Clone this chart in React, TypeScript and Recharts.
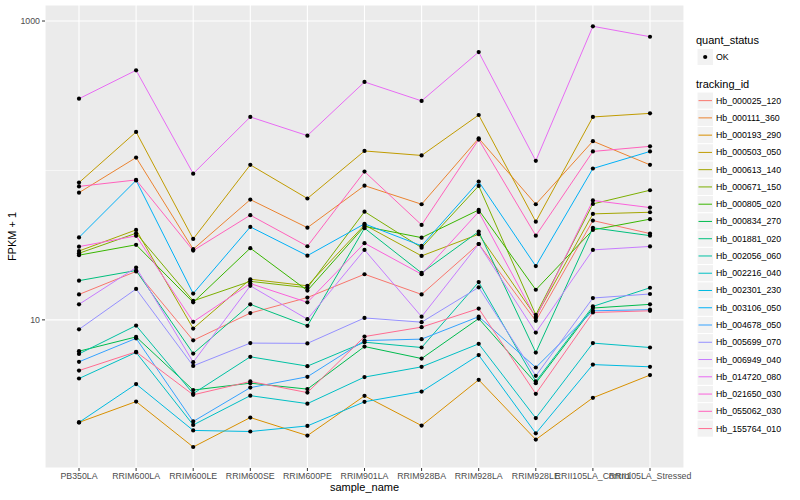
import React from "react";
import { LineChart, Line, XAxis, YAxis, CartesianGrid, ReferenceLine } from "recharts";

const categories = [
  "PB350LA", "RRIM600LA", "RRIM600LE", "RRIM600SE", "RRIM600PE", "RRIM901LA",
  "RRIM928BA", "RRIM928LA", "RRIM928LE", "RRII105LA_Control", "RRII105LA_Stressed",
];

const trackingIds = [
  "Hb_000025_120", "Hb_000111_360", "Hb_000193_290", "Hb_000503_050", "Hb_000613_140",
  "Hb_000671_150", "Hb_000805_020", "Hb_000834_270", "Hb_001881_020", "Hb_002056_060",
  "Hb_002216_040", "Hb_002301_230", "Hb_003106_050", "Hb_004678_050", "Hb_005699_070",
  "Hb_006949_040", "Hb_014720_080", "Hb_021650_030", "Hb_055062_030", "Hb_155764_010",
];

const colors = [
  "#F8766D", "#EA8331", "#D89000", "#C09B00", "#A3A500", "#7CAE00", "#39B600", "#00BB4E",
  "#00BF7D", "#00C1A3", "#00BFC4", "#00BAE0", "#00B0F6", "#35A2FF", "#9590FF", "#C77CFF",
  "#E76BF3", "#FA62DB", "#FF62BC", "#FF6C91",
];

// FPKM + 1 per sample, in category order
const hb_000025_120 = [14.8, 21.1, 7.29, 11.1, 14.1, 20.2, 14.8, 32.2, 9.85, 46.2, 37.8];
const hb_000111_360 = [71.0, 122, 29.7, 63.8, 41.4, 79.1, 59.4, 164, 59.4, 157, 109];
const hb_000193_290 = [2.06, 2.84, 1.41, 2.22, 1.68, 3.10, 1.96, 3.97, 1.58, 3.01, 4.27];
const hb_000503_050 = [82.9, 181, 34.8, 109, 64.9, 135, 126, 235, 45.4, 228, 241];
const hb_000613_140 = [28.9, 40.0, 8.75, 18.7, 16.9, 43.2, 26.8, 37.4, 10.5, 51.2, 52.5];
const hb_000671_150 = [27.9, 38.0, 13.4, 18.1, 16.4, 53.0, 30.4, 78.8, 10.8, 59.7, 73.7];
const hb_000805_020 = [27.1, 31.8, 13.1, 30.2, 15.7, 42.2, 35.5, 54.4, 15.9, 40.0, 47.2];
const hb_000834_270 = [6.17, 7.69, 3.39, 3.77, 3.44, 6.63, 5.51, 10.2, 3.77, 12.0, 12.7];
const hb_001881_020 = [18.3, 21.4, 5.95, 12.7, 9.12, 41.1, 20.6, 39.0, 6.04, 41.3, 36.6];
const hb_002056_060 = [5.92, 9.16, 3.21, 5.66, 4.90, 7.09, 6.53, 17.9, 3.87, 12.3, 16.4];
const hb_002216_040 = [4.05, 6.06, 1.98, 3.11, 2.75, 4.14, 4.85, 6.91, 2.20, 6.99, 6.53];
const hb_002301_230 = [2.06, 3.72, 1.82, 1.79, 1.95, 2.83, 3.31, 5.81, 1.74, 5.02, 4.85];
const hb_003106_050 = [35.6, 85.8, 15.0, 41.9, 26.9, 43.9, 31.3, 84.2, 22.9, 103, 134];
const hb_004678_050 = [5.24, 7.52, 2.09, 3.52, 4.16, 7.27, 7.43, 10.5, 4.80, 11.5, 11.7];
const hb_005699_070 = [8.64, 16.1, 4.92, 6.99, 6.96, 10.3, 9.65, 16.5, 4.22, 14.0, 14.9];
const hb_006949_040 = [12.7, 22.4, 5.21, 16.9, 10.1, 29.4, 10.5, 32.2, 8.22, 29.4, 31.0];
const hb_014720_080 = [302, 468, 95.2, 228, 171, 391, 292, 620, 116, 922, 785];
const hb_021650_030 = [30.9, 36.5, 9.7, 17.5, 13.1, 32.6, 20.2, 52.8, 10.3, 63.0, 56.4];
const hb_055062_030 = [78.2, 86.4, 29.1, 50.2, 31.1, 98.2, 43.2, 161, 36.6, 134, 145];
const hb_155764_010 = [4.58, 6.11, 3.15, 3.87, 3.26, 7.73, 8.94, 11.9, 3.20, 11.2, 11.5];

const seriesValues = [
  hb_000025_120, hb_000111_360, hb_000193_290, hb_000503_050, hb_000613_140,
  hb_000671_150, hb_000805_020, hb_000834_270, hb_001881_020, hb_002056_060,
  hb_002216_040, hb_002301_230, hb_003106_050, hb_004678_050, hb_005699_070,
  hb_006949_040, hb_014720_080, hb_021650_030, hb_055062_030, hb_155764_010,
];

const yTicks = [10, 1000];
const yMinor = [100];

const data = categories.map((sample_name, i) => {
  const row: Record<string, string | number> = { sample_name };
  trackingIds.forEach((id, k) => {
    row[id] = seriesValues[k][i];
  });
  return row;
});

const FONT = '"Liberation Sans", Arial, Helvetica, sans-serif';

const XTick = (props: any) => {
  const { x, y, payload } = props;
  return (
    <text x={x} y={y} dy="0.71em" textAnchor="middle" fontSize={8.8} fill="#4D4D4D" fontFamily={FONT}>
      {payload.value}
    </text>
  );
};

const YTick = (props: any) => {
  const { x, y, payload } = props;
  return (
    <text x={x} y={y} dy="0.32em" textAnchor="end" fontSize={8.8} fill="#4D4D4D" fontFamily={FONT}>
      {payload.value}
    </text>
  );
};

const BlackDot = (props: any) => {
  const { cx, cy } = props;
  if (cx == null || cy == null) return null;
  return <circle cx={cx} cy={cy} r={2.1} fill="#000" />;
};

export default function App() {
  const keyTop = 92;
  const keyH = 17.26;
  return (
    <div style={{ position: "absolute", left: 0, top: 0, width: 800, height: 500, background: "#fff" }}>
      <LineChart width={800} height={500} data={data} margin={{ top: 5, right: 116, bottom: 0, left: 0 }}>
        <CartesianGrid fill="#EBEBEB" stroke="#FFFFFF" strokeWidth={1.1} />
        <ReferenceLine y={yMinor[0]} stroke="#FFFFFF" strokeWidth={0.6} />
        <XAxis
          dataKey="sample_name"
          type="category"
          height={32}
          padding={{ left: 34, right: 34 }}
          axisLine={false}
          tickSize={3}
          tickMargin={2}
          tickLine={{ stroke: "#333333", strokeWidth: 1 }}
          tick={<XTick />}
          interval={0}
        />
        <YAxis
          type="number"
          scale="log"
          domain={[1.02, 1280]}
          allowDataOverflow
          ticks={yTicks}
          width={45}
          axisLine={false}
          tickSize={3}
          tickMargin={2}
          tickLine={{ stroke: "#333333", strokeWidth: 1 }}
          tick={<YTick />}
        />
        {trackingIds.map((id, k) => (
          <Line
            key={id}
            dataKey={id}
            type="linear"
            stroke={colors[k]}
            strokeWidth={1}
            dot={false}
            activeDot={false}
            isAnimationActive={false}
          />
        ))}
        {trackingIds.map((id) => (
          <Line
            key={id + "_pt"}
            dataKey={id}
            type="linear"
            stroke="none"
            dot={<BlackDot />}
            activeDot={false}
            legendType="none"
            isAnimationActive={false}
          />
        ))}
      </LineChart>
      <svg width={800} height={500} style={{ position: "absolute", left: 0, top: 0, pointerEvents: "none" }}>
        <text x={364.5} y={491} textAnchor="middle" fontSize={11} fill="#000" fontFamily={FONT}>
          sample_name
        </text>
        <text transform="translate(16,236.5) rotate(-90)" textAnchor="middle" fontSize={11} fill="#000" fontFamily={FONT}>
          FPKM + 1
        </text>
        <text x={696} y={44} fontSize={11} fill="#000" fontFamily={FONT}>quant_status</text>
        <rect x={697} y={48.5} width={16.5} height={17} fill="#F2F2F2" stroke="#fff" />
        <circle cx={705.2} cy={57} r={2.1} fill="#000" />
        <text x={716} y={60} fontSize={8.8} fill="#000" fontFamily={FONT}>OK</text>
        <text x={696} y={88} fontSize={11} fill="#000" fontFamily={FONT}>tracking_id</text>
        {trackingIds.map((id, k) => {
          const top = keyTop + k * keyH;
          const cy = top + keyH / 2;
          return (
            <g key={id}>
              <rect x={697} y={top} width={16.5} height={keyH} fill="#F2F2F2" stroke="#fff" />
              <line x1={698.5} x2={712} y1={cy} y2={cy} stroke={colors[k]} strokeWidth={1} />
              <text x={716} y={cy + 3} fontSize={8.8} fill="#000" fontFamily={FONT}>{id}</text>
            </g>
          );
        })}
      </svg>
    </div>
  );
}
